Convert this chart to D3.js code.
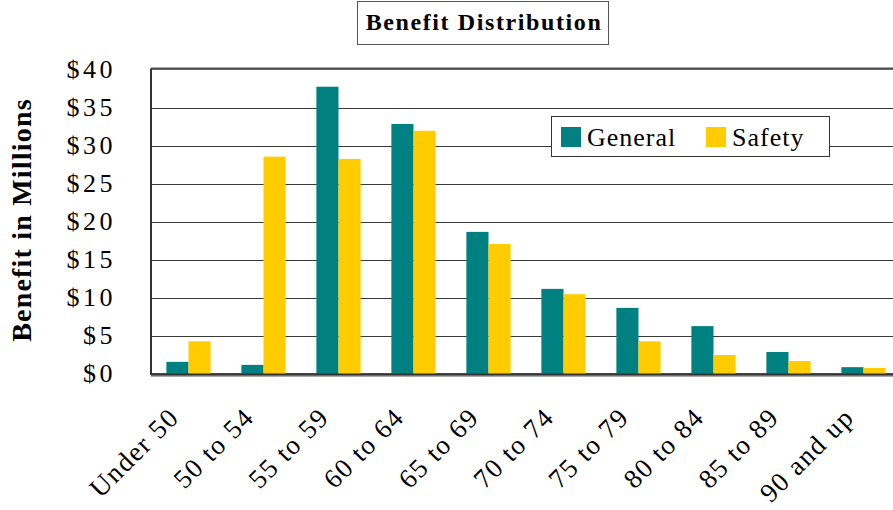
<!DOCTYPE html>
<html>
<head>
<meta charset="utf-8">
<script src="https://cdn.jsdelivr.net/npm/d3@7"></script>
<style>
  html, body { margin: 0; padding: 0; background: #fff; }
  svg { display: block; }
  text { font-family: "Liberation Serif", "Times New Roman", serif; fill: #000; }
</style>
</head>
<body>
<svg id="chart" width="893" height="510"></svg>
<script>
const categories = ["Under 50", "50 to 54", "55 to 59", "60 to 64", "65 to 69", "70 to 74", "75 to 79", "80 to 84", "85 to 89", "90 and up"];
const seriesNames = ["General", "Safety"];
const generalValues = [1.6, 1.2, 37.8, 32.9, 18.7, 11.2, 8.7, 6.3, 2.9, 0.9];
const safetyValues = [4.3, 28.6, 28.3, 32.0, 17.1, 10.5, 4.3, 2.5, 1.7, 0.8];
const seriesColors = ["#008080", "#FFCC00"];
const yTickValues = [0, 5, 10, 15, 20, 25, 30, 35, 40];
const yTickLabels = ["$0", "$5", "$10", "$15", "$20", "$25", "$30", "$35", "$40"];
const chartTitle = "Benefit Distribution";
const yAxisTitle = "Benefit in Millions";

const seriesValues = [generalValues, safetyValues];
const rows = categories.map((c, i) => ({ cat: c, vals: seriesNames.map((s, j) => ({ s, v: seriesValues[j][i], color: seriesColors[j] })) }));

const svg = d3.select("#chart");
const plot = { left: 151, top: 70, right: 901, bottom: 374 };

const x0 = d3.scaleBand().domain(categories).range([plot.left, plot.right]).paddingInner(0.41).paddingOuter(0.205);
const x1 = d3.scaleBand().domain(seriesNames).range([0, x0.bandwidth()]);
const y = d3.scaleLinear().domain([0, 40]).range([plot.bottom, plot.top]);

// plot area shadow / frame
svg.append("rect").attr("x", plot.left + 1).attr("y", plot.top - 2).attr("width", plot.right - plot.left).attr("height", plot.bottom - plot.top + 4)
  .attr("fill", "none").attr("stroke", "#aaa").attr("stroke-width", 2);
svg.append("rect").attr("x", plot.left).attr("y", plot.top - 1).attr("width", plot.right - plot.left).attr("height", plot.bottom - plot.top + 1)
  .attr("fill", "#fff").attr("stroke", "#333").attr("stroke-width", 1.5);

// gridlines
svg.append("g").selectAll("line").data(yTickValues.filter(v => v > 0 && v < 40)).join("line")
  .attr("x1", plot.left).attr("x2", plot.right)
  .attr("y1", d => Math.round(y(d)) + 0.5).attr("y2", d => Math.round(y(d)) + 0.5)
  .attr("stroke", "#3a3a3a").attr("stroke-width", 1);

// bars
const groups = svg.append("g").selectAll("g").data(rows).join("g")
  .attr("transform", d => `translate(${x0(d.cat)},0)`);
groups.selectAll("rect").data(d => d.vals).join("rect")
  .attr("x", d => x1(d.s)).attr("width", x1.bandwidth())
  .attr("y", d => y(d.v)).attr("height", d => y(0) - y(d.v))
  .attr("fill", d => d.color);

// baseline
svg.append("line").attr("x1", plot.left).attr("x2", plot.right).attr("y1", plot.bottom + 0.5).attr("y2", plot.bottom + 0.5)
  .attr("stroke", "#333").attr("stroke-width", 2);
svg.append("line").attr("x1", plot.left).attr("x2", plot.left).attr("y1", plot.top - 1).attr("y2", plot.bottom + 1)
  .attr("stroke", "#333").attr("stroke-width", 2);

// y tick labels
svg.append("g").selectAll("text").data(yTickValues).join("text")
  .attr("x", 116).attr("y", d => y(d)).attr("dy", "0.3em")
  .attr("text-anchor", "end").attr("font-size", 26).attr("letter-spacing", 3.5)
  .text((d, i) => yTickLabels[i]);

// x labels
svg.append("g").selectAll("text").data(categories).join("text")
  .attr("transform", d => `translate(${x0(d) + x0.bandwidth() / 2 - 8},419) rotate(-45)`)
  .attr("text-anchor", "end").attr("font-size", 27).attr("letter-spacing", 1.5)
  .text(d => d);

// y axis title
svg.append("text").attr("transform", "translate(31,220) rotate(-90)")
  .attr("text-anchor", "middle").attr("font-size", 28).attr("font-weight", "bold").attr("letter-spacing", 1.2)
  .text(yAxisTitle);

// title box
svg.append("rect").attr("x", 357.5).attr("y", 1.5).attr("width", 251).attr("height", 43)
  .attr("fill", "#fff").attr("stroke", "#555").attr("stroke-width", 1);
svg.append("text").attr("x", 484).attr("y", 30).attr("text-anchor", "middle")
  .attr("font-size", 24).attr("font-weight", "bold").attr("letter-spacing", 1.6)
  .text(chartTitle);

// legend
const legend = svg.append("g");
legend.append("rect").attr("x", 551.5).attr("y", 116.5).attr("width", 278).attr("height", 40)
  .attr("fill", "#fff").attr("stroke", "#333").attr("stroke-width", 1);
const legendX = [561, 706];
const li = legend.selectAll("g").data(seriesNames).join("g")
  .attr("transform", (d, i) => `translate(${legendX[i]},127)`);
li.append("rect").attr("width", 20).attr("height", 20).attr("fill", (d, i) => seriesColors[i]);
li.append("text").attr("x", 26).attr("y", 19).attr("font-size", 26).attr("letter-spacing", 1).text(d => d);
</script>
</body>
</html>
